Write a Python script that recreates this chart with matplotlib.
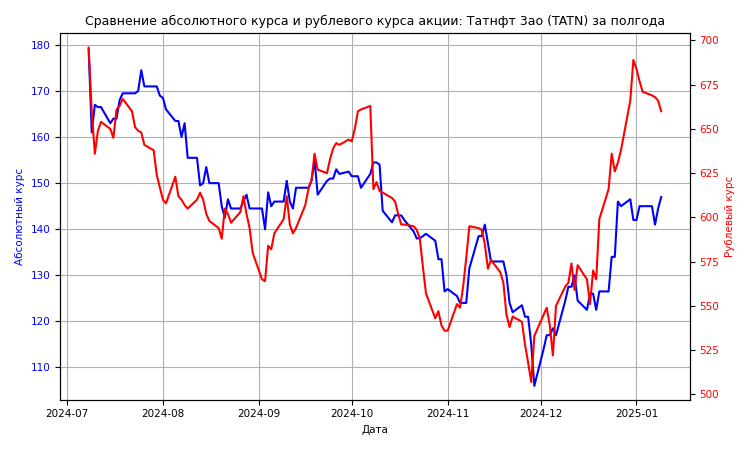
import numpy as np
import pandas as pd
import matplotlib.pyplot as plt
import matplotlib.dates as mdates

# Абсолютный курс (левая ось)
abs_rate = [
    179, 161, 167, 166.5, 166.5, 163, 164, 164, 168, 169.5, 169.5, 169.5, 170, 174.5, 171, 171, 171, 169,
    168.5, 166, 163.5, 163.5, 160, 163, 155.5, 155.5, 149.5, 150, 153.5, 150, 150, 145, 142.5, 146.5, 144.5, 144.5, 146, 147.5, 144.5, 144.5,
    144.5, 140, 148, 145, 146, 146, 150.5, 146, 144.5, 149, 149, 149, 150.5, 155, 147.5, 150.5, 151, 151, 153, 152, 152.5,
    151.5, 151.5, 151.5, 149, 152, 154.5, 154.5, 154, 144, 141.5, 143, 143, 143, 142, 139.5, 138, 138, 138.5, 139, 137.5, 133.5, 133.5, 126.5,
    127, 125.5, 124, 124, 124, 131.5, 138.5, 138.5, 141, 137, 133, 133, 133, 130, 124, 122, 123.5, 121, 121, 115, 106,
    114, 117, 117, 118.5, 117, 124.5, 127.5, 127.5, 130, 124.5, 122.5, 126, 126, 122.5, 126.5, 126.5, 134, 134, 146, 145, 146.5, 142,
    142, 145, 145, 145, 141, 144.5, 147,
]

# Рублевый курс (правая ось)
rub_rate = [
    696, 660, 636, 649, 654, 650, 645, 661, 663, 667, 660, 651, 649, 648,
    641, 638, 624, 617, 610, 608, 623, 612, 610, 607, 605, 610, 614, 610, 602, 598, 594, 588, 605, 602, 597, 603,
    612, 602, 594, 580, 565, 564, 584, 582, 591, 599, 612, 596, 591, 594, 607, 616, 621, 636, 627, 625, 633,
    639, 642, 641, 644, 643, 650, 660, 661, 663, 616, 620, 615, 614, 611, 609, 602, 596, 596, 595, 593, 588, 572, 557,
    543, 547, 539, 536, 536, 551, 549, 561, 577, 595, 594, 593, 585, 571, 576, 569, 563, 545, 538, 544, 541,
    528, 518, 507, 533, 545, 549, 539, 522, 550, 561, 563, 574, 559, 573, 565, 551, 570, 565, 599, 616, 636, 626,
    631, 638, 666, 689, 684, 677, 671, 669, 668, 666, 660,
]

dates = pd.bdate_range("2024-07-08", periods=len(abs_rate))

fig, ax1 = plt.subplots(figsize=(7.5, 4.5), dpi=100)
ax1.plot(dates, abs_rate, color="blue")
ax1.set_ylabel("Абсолютный курс", color="blue")
ax1.tick_params(axis="y", labelcolor="blue")
ax1.set_xlabel("Дата")
ax1.set_ylim(103, 182.5)
ax1.grid(True)
ax1.xaxis.set_major_formatter(mdates.DateFormatter("%Y-%m"))

ax2 = ax1.twinx()
ax2.plot(dates, rub_rate, color="red")
ax2.set_ylabel("Рублевый курс", color="red")
ax2.tick_params(axis="y", labelcolor="red")
ax2.set_ylim(497, 704)

for lbl in ax1.get_xticklabels() + ax1.get_yticklabels() + ax2.get_yticklabels():
    lbl.set_fontsize(7.5)
ax1.xaxis.label.set_fontsize(7.5)
ax1.yaxis.label.set_fontsize(7.5)
ax2.yaxis.label.set_fontsize(7.5)

plt.title("Сравнение абсолютного курса и рублевого курса акции: Татнфт 3ао (TATN) за полгода", fontsize=9)
fig.tight_layout()
plt.savefig("out.png")
